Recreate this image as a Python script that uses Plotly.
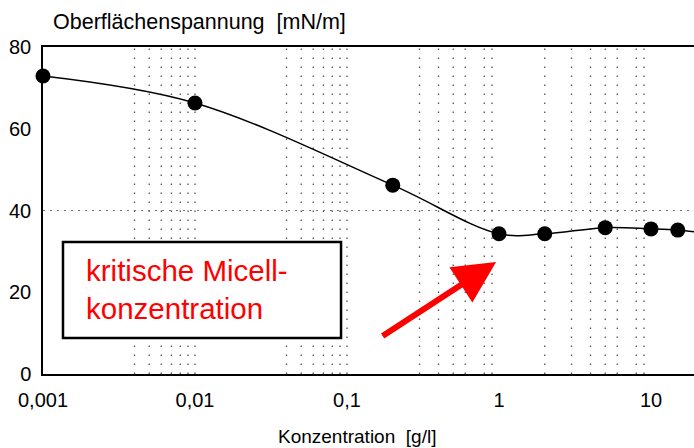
import numpy as np
import plotly.graph_objects as go

# data
konz = [0.001, 0.01, 0.2, 1, 2, 5, 10, 15, 20]
spannung = [72.9, 66.3, 46.2, 34.3, 34.3, 35.8, 35.5, 35.2, 34.7]

x_ticks = [0.001, 0.01, 0.1, 1, 10]
x_ticklabels = ["0,001", "0,01", "0,1", "1", "10"]
y_ticks = [0, 20, 40, 60, 80]

# background paper-grid (dotted) positions
v_grid = [0.004, 0.005, 0.006, 0.007, 0.008, 0.009, 0.01,
          0.04, 0.05, 0.06, 0.07, 0.08, 0.09, 0.1,
          0.3, 0.4, 0.5, 0.6, 0.8, 0.9,
          2, 3, 4, 5, 6, 8, 9]
h_grid = [40]

FONT = "Liberation Sans, Arial, Helvetica, sans-serif"

fig = go.Figure()
fig.add_trace(go.Scatter(
    x=konz, y=spannung, mode="lines+markers",
    line=dict(color="black", width=1.5, shape="spline", smoothing=1.0),
    marker=dict(color="black", size=15),
    cliponaxis=False, showlegend=False, hoverinfo="skip"))

shapes = []
for v in v_grid:
    shapes.append(dict(type="line", xref="x", yref="paper", x0=v, x1=v, y0=0, y1=1,
                       line=dict(color="#555", width=1.3, dash="1.5px,7.5px"), layer="below"))
for h in h_grid:
    shapes.append(dict(type="line", xref="paper", yref="y", x0=0, x1=1, y0=h, y1=h,
                       line=dict(color="#777", width=1.2, dash="2px,5px"), layer="below"))
# annotation box
shapes.append(dict(type="rect", xref="paper", yref="paper", x0=0.0307, x1=0.4578, y0=0.110, y1=0.4037,
                   line=dict(color="black", width=2.5), fillcolor="white", layer="above"))

annotations = [
    dict(text="Oberflächenspannung  [mN/m]", xref="paper", yref="paper", x=0.0118, y=1.0754,
         xanchor="left", yanchor="middle", showarrow=False, font=dict(size=21.5, color="black", family=FONT)),
    dict(text="Konzentration  [g/l]", xref="paper", yref="paper", x=0.483, y=-0.19,
         xanchor="center", yanchor="middle", showarrow=False, font=dict(size=19, color="black", family=FONT)),
    dict(text="kritische Micell-<br>konzentration", xref="paper", yref="paper", x=0.063, y=0.257,
         xanchor="left", yanchor="middle", align="left", showarrow=False,
         font=dict(size=29.5, color="#ff0000", family=FONT)),
    dict(text="", xref="paper", yref="paper", x=0.696, y=0.3425, ax=-115, ay=75,
         showarrow=True, arrowhead=2, arrowsize=1.4, arrowwidth=6, arrowcolor="#ff0000", standoff=0),
]

fig.update_layout(
    width=694, height=448,
    margin=dict(l=43, r=0, t=47, b=74),
    paper_bgcolor="white", plot_bgcolor="white",
    font=dict(family=FONT, size=20, color="black"),
    shapes=shapes, annotations=annotations,
    xaxis=dict(type="log", range=[-3, -3 + 651 / 152], tickvals=x_ticks, ticktext=x_ticklabels,
               showgrid=False, zeroline=False, showline=True, linecolor="black", linewidth=1.5,
               mirror=True, ticks="", ticklabelstandoff=7, tickfont=dict(size=20)),
    yaxis=dict(range=[0, 80], tickvals=y_ticks, showgrid=False, zeroline=False,
               showline=True, linecolor="black", linewidth=1.5, mirror=False, ticks="",
               ticklabelstandoff=6, tickfont=dict(size=20)),
)

fig.write_html("out.html")
